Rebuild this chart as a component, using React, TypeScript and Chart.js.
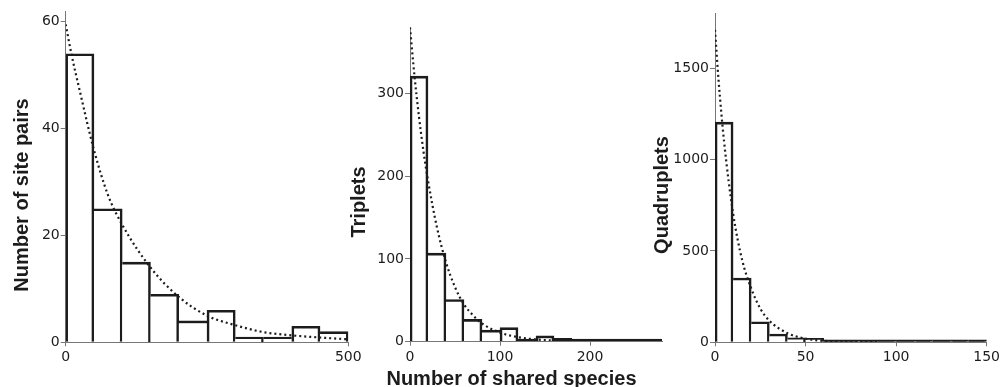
import React, { useEffect, useRef } from "react";
import { Chart, registerables } from "chart.js";

Chart.register(...registerables);

// ---------- data ----------
// Panel 1: site pairs (bins of 50)
const pairBinCenters = [25, 75, 125, 175, 225, 275, 325, 375, 425, 475];
const pairCounts = [54, 25, 15, 9, 4, 6, 1, 1, 3, 2];
const pairFitX = [0, 10, 25, 50, 75, 100, 150, 200, 250, 300, 350, 400, 450, 500];
const pairFitY = [59.5, 54, 47, 36, 27.5, 22, 14, 8.5, 5, 3.2, 1.9, 1.3, 0.9, 0.55];
const pairXTicks = [0, 500];
const pairYTicks = [0, 20, 40, 60];

// Panel 2: triplets (bins of 20)
const tripletBinCenters = [10, 30, 50, 70, 90, 110, 130, 150, 170, 190, 210, 230, 250, 270];
const tripletCounts = [321, 107, 51, 27, 14, 17, 2, 7, 4, 1, 2, 1, 1, 1];
const tripletFitX = [0, 5, 10, 15, 20, 30, 40, 50, 60, 70, 80, 100, 120, 140, 160, 175];
const tripletFitY = [380, 321, 272, 230, 195, 138, 96, 66, 45, 32, 22, 11, 5.5, 2.7, 1.3, 0.8];
const tripletXTicks = [0, 100, 200];
const tripletYTicks = [0, 100, 200, 300];

// Panel 3: quadruplets (bins of 10)
const quadBinCenters = [5, 15, 25, 35, 45, 55, 65, 75, 85, 95, 105, 115, 125, 135, 145];
const quadCounts = [1205, 352, 112, 45, 25, 22, 9, 6, 4, 1, 1, 2, 1, 2, 1];
const quadFitX = [0, 2, 5, 10, 15, 20, 25, 30, 40, 50, 60, 70, 80, 90];
const quadFitY = [1710, 1430, 1100, 705, 450, 295, 185, 118, 50, 20, 8, 3.5, 1.5, 0.7];
const quadXTicks = [0, 50, 100, 150];
const quadYTicks = [0, 500, 1000, 1500];

const yTitles = ["Number of site pairs", "Triplets", "Quadruplets"];
const xTitle = "Number of shared species";

// ---------- styling ----------
const H = 387;
const INK = "#1c1c1c";
const AXIS = "#777";
const BW = 2.6;
const TICK_FONT = { family: "'DejaVu Sans', sans-serif", size: 14 };
const TITLE_FONT = "bold 20px 'Liberation Sans', Arial, sans-serif";

type Title = { text: string; x: number; y: number; rotate: boolean };

type PanelCfg = {
  canvasLeft: number;
  canvasW: number;
  axisX: number;
  axisRight: number;
  top: number;
  bottom: number;
  xMax: number;
  yMax: number;
  centers: number[];
  counts: number[];
  fitX: number[];
  fitY: number[];
  xTicks: number[];
  yTicks: number[];
  titles: Title[];
};

const panels: PanelCfg[] = [
  {
    canvasLeft: 0, canvasW: 385, axisX: 65.7, axisRight: 348.3, top: 11.0, bottom: 342.3,
    xMax: 500, yMax: 62,
    centers: pairBinCenters, counts: pairCounts, fitX: pairFitX, fitY: pairFitY,
    xTicks: pairXTicks, yTicks: pairYTicks,
    titles: [{ text: yTitles[0], x: 27.5, y: 195, rotate: true }],
  },
  {
    canvasLeft: 340, canvasW: 340, axisX: 410, axisRight: 662, top: 27.4, bottom: 341.7,
    xMax: 280, yMax: 380,
    centers: tripletBinCenters, counts: tripletCounts, fitX: tripletFitX, fitY: tripletFitY,
    xTicks: tripletXTicks, yTicks: tripletYTicks,
    titles: [
      { text: yTitles[1], x: 364.5, y: 202, rotate: true },
      { text: xTitle, x: 511.5, y: 384.5, rotate: false },
    ],
  },
  {
    canvasLeft: 640, canvasW: 363, axisX: 715, axisRight: 988.3, top: 13.4, bottom: 342.3,
    xMax: 150, yMax: 1800,
    centers: quadBinCenters, counts: quadCounts, fitX: quadFitX, fitY: quadFitY,
    xTicks: quadXTicks, yTicks: quadYTicks,
    titles: [{ text: yTitles[2], x: 668, y: 195, rotate: true }],
  },
];

function makeTitlePlugin(items: Title[], offsetX: number) {
  return {
    id: "panelTitles",
    afterDraw(chart: any) {
      const ctx = chart.ctx as CanvasRenderingContext2D;
      for (const t of items) {
        ctx.save();
        ctx.font = TITLE_FONT;
        ctx.fillStyle = INK;
        ctx.textAlign = "center";
        ctx.textBaseline = "alphabetic";
        ctx.translate(t.x - offsetX, t.y);
        if (t.rotate) ctx.rotate(-Math.PI / 2);
        ctx.fillText(t.text, 0, 0);
        ctx.restore();
      }
    },
  };
}

function Panel({ cfg }: { cfg: PanelCfg }) {
  const ref = useRef<HTMLCanvasElement | null>(null);

  useEffect(() => {
    const c = cfg;
    const plotH = c.bottom - c.top;
    const counts = c.counts;
    const chart = new Chart(ref.current as HTMLCanvasElement, {
      type: "bar",
      data: {
        datasets: [
          {
            type: "line",
            data: c.fitX.map((x, i) => ({ x, y: c.fitY[i] })),
            borderColor: INK,
            borderWidth: 2.2,
            borderDash: [2, 3],
            pointRadius: 0,
            tension: 0.4,
            cubicInterpolationMode: "monotone",
            fill: false,
            order: 0,
          } as any,
          {
            type: "bar",
            data: c.centers.map((x, i) => ({ x, y: counts[i] === 0 ? null : counts[i] })),
            backgroundColor: (ctx: any) => {
              const v = counts[ctx.dataIndex] || 0;
              const h = (v / c.yMax) * plotH;
              return h < BW + 1 ? INK : "#ffffff";
            },
            borderColor: INK,
            borderWidth: (ctx: any) => {
              const i = ctx.dataIndex;
              const v = counts[i];
              const prev = i > 0 ? counts[i - 1] : -1;
              const next = i < counts.length - 1 ? counts[i + 1] : -1;
              return { top: BW, bottom: 0, left: v > prev ? BW : 0, right: v >= next ? BW : 0 };
            },
            borderSkipped: "start",
            barPercentage: 1,
            categoryPercentage: 1,
            minBarLength: 2.5,
            order: 1,
          } as any,
        ],
      },
      options: {
        animation: false,
        responsive: false,
        events: [],
        layout: {
          padding: {
            left: 0,
            right: c.canvasLeft + c.canvasW - c.axisRight,
            top: c.top,
            bottom: 0,
          },
        },
        plugins: {
          legend: { display: false },
          tooltip: { enabled: false },
          title: { display: false },
        },
        scales: {
          x: {
            type: "linear",
            min: 0,
            max: c.xMax,
            offset: false,
            grid: {
              display: true,
              offset: false,
              drawOnChartArea: false,
              drawTicks: true,
              tickLength: 4,
              color: AXIS,
              lineWidth: 1,
            },
            border: { display: true, color: AXIS, width: 1, z: 1 },
            ticks: {
              font: TICK_FONT,
              color: INK,
              padding: 3,
              maxRotation: 0,
              autoSkip: false,
              callback: (v: any) => String(v),
            },
            afterBuildTicks: (s: any) => {
              s.ticks = c.xTicks.map((v) => ({ value: v }));
            },
            afterFit: (s: any) => {
              s.height = H - c.bottom;
            },
          },
          y: {
            type: "linear",
            min: 0,
            max: c.yMax,
            grid: {
              display: true,
              offset: false,
              drawOnChartArea: false,
              drawTicks: true,
              tickLength: 5,
              color: AXIS,
              lineWidth: 1,
            },
            border: { display: true, color: AXIS, width: 1 },
            ticks: {
              font: TICK_FONT,
              color: INK,
              padding: 1,
              autoSkip: false,
              callback: (v: any) => String(v),
            },
            afterBuildTicks: (s: any) => {
              s.ticks = c.yTicks.map((v) => ({ value: v }));
            },
            afterFit: (s: any) => {
              s.width = c.axisX - c.canvasLeft;
            },
          },
        },
      } as any,
      plugins: [makeTitlePlugin(c.titles, c.canvasLeft)],
    });
    return () => chart.destroy();
  }, [cfg]);

  return (
    <canvas
      ref={ref}
      width={cfg.canvasW}
      height={H}
      style={{ position: "absolute", left: cfg.canvasLeft, top: 0, width: cfg.canvasW, height: H }}
    />
  );
}

export default function App() {
  return (
    <div
      style={{
        position: "absolute",
        left: 0,
        top: 0,
        width: 1003,
        height: H,
        background: "#ffffff",
        overflow: "hidden",
      }}
    >
      {panels.map((p, i) => (
        <Panel key={i} cfg={p} />
      ))}
    </div>
  );
}
